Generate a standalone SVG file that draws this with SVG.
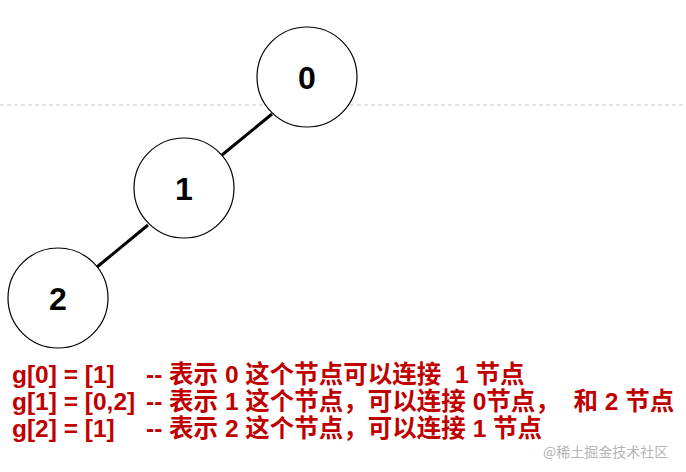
<svg xmlns="http://www.w3.org/2000/svg" width="686" height="472" viewBox="0 0 686 472">
<style>
.node{fill:#fff;stroke:#000;stroke-width:1.2}
.edge{stroke:#000;stroke-width:3;fill:none}
.nl{font-family:"Liberation Sans",Arial,sans-serif;font-weight:bold;font-size:32px;text-anchor:middle;fill:#000}
.t{font-family:"Liberation Sans","Noto Sans CJK SC",sans-serif;font-weight:bold;font-size:24.5px;fill:#c00000;white-space:pre}
.wm{font-family:"Noto Sans CJK SC",sans-serif;font-size:14px;fill:#b4b4b4}
</style>
<rect width="686" height="472" fill="#fff"/>
<line x1="0" y1="105" x2="686" y2="105" stroke="#c8c8c8" stroke-width="1.2" stroke-dasharray="4,3"/>
<g id="connectors">
<line class="edge" x1="272" y1="114" x2="222" y2="155"/>
<line class="edge" x1="148" y1="225" x2="97" y2="267"/>
</g>
<g id="node0"><circle class="node" cx="307" cy="77" r="50"/><text class="nl" x="307" y="89">0</text></g>
<g id="node1"><circle class="node" cx="184" cy="188" r="50"/><text class="nl" x="184" y="200">1</text></g>
<g id="node2"><circle class="node" cx="58" cy="298" r="50"/><text class="nl" x="58" y="310">2</text></g>
<g id="labels">
<text class="t" y="383" xml:space="preserve"><tspan x="12">g[0] = [1]</tspan><tspan x="146">-- 表示 0 这个节点可以连接  1 节点</tspan></text>
<text class="t" y="410" xml:space="preserve"><tspan x="12">g[1] = [0,2]</tspan><tspan x="146">-- 表示 1 这个节点，可以连接 0节点，  和 2 节点</tspan></text>
<text class="t" y="437" xml:space="preserve"><tspan x="12">g[2] = [1]</tspan><tspan x="146">-- 表示 2 这个节点，可以连接 1 节点</tspan></text>
<text class="wm" x="543" y="457">@稀土掘金技术社区</text>
</g>
</svg>
